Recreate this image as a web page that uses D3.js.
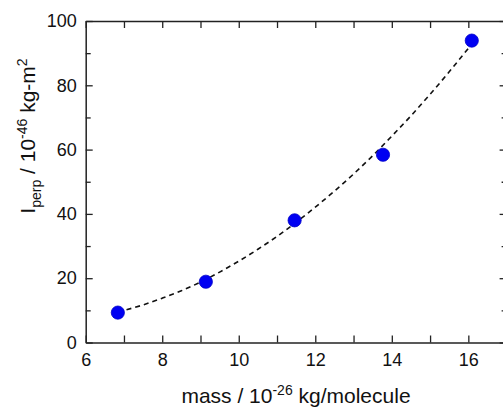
<!DOCTYPE html>
<html>
<head>
<meta charset="utf-8">
<script src="https://cdn.jsdelivr.net/npm/d3@7"></script>
<style>
  body { margin: 0; background: #fff; }
  text { font-family: "Liberation Sans", Arial, sans-serif; fill: #111; }
</style>
</head>
<body>
<script>
var width = 503;
var height = 408;

// measured points
var massVals = [6.84, 9.14, 11.46, 13.77, 16.09];
var iperpVals = [9.3, 18.9, 38.0, 58.4, 93.9];

// dashed fit curve
var fitX = [6.84, 7.5, 8.0, 8.5, 9.0, 9.5, 10.0, 10.5, 11.0, 11.5, 12.0, 12.5, 13.0, 13.5, 14.0, 14.5, 15.0, 15.5, 16.08];
var fitY = [9.5, 11.7, 13.8, 16.1, 18.8, 21.9, 25.3, 29.0, 33.0, 37.4, 42.1, 47.1, 52.4, 58.1, 64.2, 70.5, 77.2, 84.2, 92.7];

var xTicks = [6, 7, 8, 9, 10, 11, 12, 13, 14, 15, 16, 17];
var yTicks = [0, 10, 20, 30, 40, 50, 60, 70, 80, 90, 100];

var x = d3.scaleLinear().domain([6, 17]).range([85.7, 506.6]);
var y = d3.scaleLinear().domain([0, 100]).range([342.5, 21]);

const svg = d3.select("body").append("svg")
  .attr("width", width)
  .attr("height", height);

/* 曲线 */
const line = d3.line()
  .x(function (d) { return x(d[0]); })
  .y(function (d) { return y(d[1]); });

svg.append("path")
  .datum(fitX.map(function (v, i) { return [v, fitY[i]]; }))
  .attr("d", line.curve(d3.curveMonotoneX))
  .attr("fill", "none")
  .attr("stroke", "#111")
  .attr("stroke-width", 1.6)
  .attr("stroke-dasharray", "5,4");

/* 点 */
svg.append("g")
  .selectAll("circle")
  .data(massVals)
  .enter().append("circle")
  .attr("cx", d => x(d))
  .attr("cy", (d, i) => y(iperpVals[i]))
  .attr("r", 6.6)
  .attr("fill", "#0000f2")
  .attr("stroke", "#0000c8")
  .attr("stroke-width", 0.8);

/* 坐标轴 */
function styleAxis(g, minorLen, vertical) {
  g.selectAll(".domain").attr("stroke", "#222").attr("stroke-width", 1.5);
  g.selectAll(".tick line").attr("stroke", "#222").attr("stroke-width", 1.3);
  g.selectAll(".tick text")
    .style("font-family", "'Liberation Sans', Arial, sans-serif")
    .style("font-size", "18px")
    .attr("fill", "#111");
  if (minorLen) {
    g.selectAll(".tick").filter(function (d) { return d % 20 !== 0; })
      .select("line").attr(vertical ? "x2" : "y2", minorLen);
  }
}

const xBottom = svg.append("g")
  .attr("transform", "translate(0," + y(0) + ")")
  .call(d3.axisBottom(x).tickValues(xTicks).tickSizeInner(-7).tickSizeOuter(0).tickPadding(11)
    .tickFormat(function (d) { return (d % 2 === 0 && d <= 16) ? d : ""; }));
styleAxis(xBottom);

const xTop = svg.append("g")
  .attr("transform", "translate(0," + y(100) + ")")
  .call(d3.axisTop(x).tickValues(xTicks).tickSizeInner(-7).tickSizeOuter(0).tickFormat(""));
styleAxis(xTop);

const yLeft = svg.append("g")
  .attr("transform", "translate(" + x(6) + ",0)")
  .call(d3.axisLeft(y).tickValues(yTicks).tickSizeInner(-7).tickSizeOuter(0).tickPadding(9)
    .tickFormat(function (d) { return d % 20 === 0 ? d : ""; }));
styleAxis(yLeft, 5, true);

const yRight = svg.append("g")
  .attr("transform", "translate(" + x(17) + ",0)")
  .call(d3.axisRight(y).tickValues(yTicks).tickSizeInner(-7).tickSizeOuter(0).tickFormat(""));
styleAxis(yRight, -5, true);

/* 轴标题 */
const xTitle = svg.append("text")
  .attr("x", 296)
  .attr("y", 403)
  .attr("text-anchor", "middle")
  .style("font-size", "21px");
xTitle.append("tspan").text("mass / 10");
xTitle.append("tspan").attr("dy", -8).style("font-size", "14px").text("-26");
xTitle.append("tspan").attr("dy", 8).text(" kg/molecule");

const yTitle = svg.append("text")
  .attr("transform", "translate(35,136) rotate(-90)")
  .attr("text-anchor", "middle")
  .style("font-size", "21px");
yTitle.append("tspan").text("I");
yTitle.append("tspan").attr("dy", 6).style("font-size", "14px").text("perp");
yTitle.append("tspan").attr("dy", -6).text(" / 10");
yTitle.append("tspan").attr("dy", -8).style("font-size", "14px").text("-46");
yTitle.append("tspan").attr("dy", 8).text(" kg-m");
yTitle.append("tspan").attr("dy", -8).style("font-size", "14px").text("2");
</script>
</body>
</html>
